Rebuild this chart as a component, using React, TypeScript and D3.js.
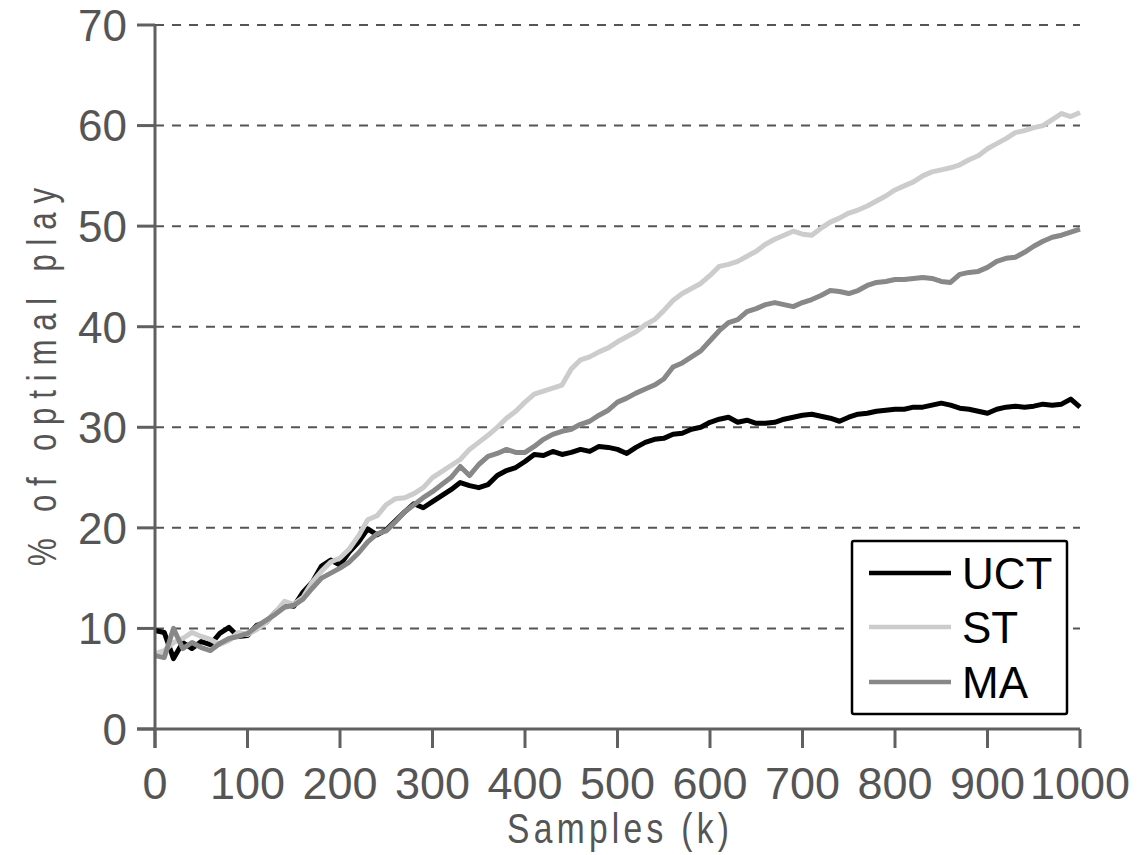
import React from "react";
import * as d3 from "d3";

const samples: number[] = d3.range(0, 1001, 10);

const uct: number[] = [
  9.8, 9.6, 7.0, 8.6, 8.0, 8.7, 8.4, 9.5, 10.1, 9.2,
  9.3, 10.3, 10.6, 11.6, 12.4, 12.2, 13.6, 14.6, 16.2, 16.8,
  16.3, 17.6, 18.6, 19.9, 19.3, 19.8, 20.7, 21.6, 22.4, 22.0,
  22.6, 23.2, 23.8, 24.5, 24.2, 24.0, 24.3, 25.2, 25.7, 26.0,
  26.6, 27.3, 27.2, 27.6, 27.3, 27.5, 27.8, 27.6, 28.1, 28.0,
  27.8, 27.4, 28.0, 28.5, 28.8, 28.9, 29.3, 29.4, 29.8, 30.0,
  30.5, 30.8, 31.0, 30.5, 30.7, 30.4, 30.4, 30.5, 30.8, 31.0,
  31.2, 31.3, 31.1, 30.9, 30.6, 31.0, 31.3, 31.4, 31.6, 31.7,
  31.8, 31.8, 32.0, 32.0, 32.2, 32.4, 32.2, 31.9, 31.8, 31.6,
  31.4, 31.8, 32.0, 32.1, 32.0, 32.1, 32.3, 32.2, 32.3, 32.8,
  32.0,
];

const st: number[] = [
  7.5, 7.8, 8.6, 9.0, 9.6, 9.2, 8.9, 8.4, 8.8, 9.6,
  9.4, 9.9, 10.6, 11.6, 12.7, 12.4, 13.1, 14.6, 15.7, 16.6,
  17.0, 17.9, 19.2, 20.8, 21.2, 22.3, 22.9, 23.0, 23.4, 24.0,
  25.0, 25.6, 26.2, 26.8, 27.8, 28.5, 29.2, 30.0, 30.9, 31.6,
  32.5, 33.3, 33.6, 33.9, 34.2, 35.8, 36.7, 37.0, 37.5, 37.9,
  38.5, 39.0, 39.5, 40.2, 40.7, 41.6, 42.6, 43.3, 43.8, 44.3,
  45.1, 46.0, 46.2, 46.5, 47.0, 47.5, 48.2, 48.7, 49.1, 49.5,
  49.2, 49.1, 49.8, 50.4, 50.8, 51.3, 51.6, 52.0, 52.5, 53.0,
  53.6, 54.0, 54.4, 55.0, 55.4, 55.6, 55.8, 56.1, 56.6, 57.0,
  57.7, 58.2, 58.7, 59.3, 59.5, 59.8, 60.0, 60.6, 61.2, 60.9,
  61.3,
];

const ma: number[] = [
  7.3, 7.1, 10.0, 8.0, 8.6, 8.1, 7.8, 8.5, 9.0, 9.2,
  9.5, 10.2, 10.8, 11.4, 12.1, 12.3, 12.9, 14.0, 15.0, 15.5,
  16.0, 16.6, 17.5, 18.6, 19.4, 19.7, 20.6, 21.6, 22.3, 23.0,
  23.6, 24.3, 25.0, 26.1, 25.2, 26.3, 27.1, 27.4, 27.8, 27.5,
  27.5, 28.1, 28.8, 29.3, 29.6, 29.8, 30.3, 30.6, 31.2, 31.7,
  32.5, 32.9, 33.4, 33.8, 34.2, 34.8, 36.0, 36.4, 37.0, 37.6,
  38.6, 39.6, 40.4, 40.7, 41.5, 41.8, 42.2, 42.4, 42.2, 42.0,
  42.4, 42.7, 43.1, 43.6, 43.5, 43.3, 43.6, 44.1, 44.4, 44.5,
  44.7, 44.7, 44.8, 44.9, 44.8, 44.5, 44.4, 45.2, 45.4, 45.5,
  45.9, 46.5, 46.8, 46.9, 47.4, 48.0, 48.5, 48.9, 49.1, 49.4,
  49.7,
];

const seriesNames: string[] = ["UCT", "ST", "MA"];
const seriesColors: string[] = ["#000000", "#cccccc", "#888888"];
const seriesValues: number[][] = [uct, st, ma];

const xTicks: number[] = [0, 100, 200, 300, 400, 500, 600, 700, 800, 900, 1000];
const yTicks: number[] = [0, 10, 20, 30, 40, 50, 60, 70];
const xTitle = "Samples (k)";
const yTitle = "% of optimal play";

export default function App() {
  const W = 1147;
  const H = 855;
  const x = d3.scaleLinear().domain([0, 1000]).range([155, 1080]);
  const y = d3.scaleLinear().domain([0, 70]).range([729, 25]);
  const axisColor = "#606060";
  const textColor = "#555555";
  const font = "'Liberation Sans', Arial, Helvetica, sans-serif";

  const line = (vals: number[]) =>
    d3
      .line<number>()
      .x((_, i) => x(samples[i]))
      .y((v) => y(v))(vals) || "";

  const legendX = 852;
  const legendY = 541;
  const legendRows = [573, 627, 682];
  const squeeze = 0.78;

  return (
    <svg
      width={W}
      height={H}
      style={{ position: "absolute", left: 0, top: 0, background: "#fff" }}
    >
      <rect x={0} y={0} width={W} height={H} fill="#fff" />
      {/* gridlines */}
      {yTicks
        .filter((t) => t > 0)
        .map((t) => (
          <line
            key={"g" + t}
            x1={x(0)}
            x2={x(1000)}
            y1={y(t)}
            y2={y(t)}
            stroke="#555"
            strokeWidth={2}
            strokeDasharray="9,8"
          />
        ))}
      {/* series */}
      {seriesValues.map((vals, i) => (
        <path
          key={seriesNames[i]}
          d={line(vals)}
          fill="none"
          stroke={seriesColors[i]}
          strokeWidth={5}
          strokeLinejoin="round"
        />
      ))}
      {/* axes */}
      <line x1={x(0)} x2={x(0)} y1={y(70)} y2={y(0) + 19} stroke={axisColor} strokeWidth={3} />
      <line x1={x(0) - 18} x2={x(1000)} y1={y(0)} y2={y(0)} stroke={axisColor} strokeWidth={3} />
      {yTicks.map((t) => (
        <g key={"yt" + t}>
          <line x1={x(0) - 18} x2={x(0)} y1={y(t)} y2={y(t)} stroke={axisColor} strokeWidth={3} />
          <text
            x={127}
            y={y(t)}
            dy="0.36em"
            textAnchor="end"
            fontFamily={font}
            fontSize={44}
            fill={textColor}
          >
            {t}
          </text>
        </g>
      ))}
      {xTicks.map((t) => (
        <g key={"xt" + t}>
          <line x1={x(t)} x2={x(t)} y1={y(0)} y2={y(0) + 19} stroke={axisColor} strokeWidth={3} />
          <text
            x={x(t)}
            y={799}
            textAnchor="middle"
            fontFamily={font}
            fontSize={45}
            fill={textColor}
          >
            {t}
          </text>
        </g>
      ))}
      {/* axis titles */}
      <text
        transform={`translate(618,843) scale(${squeeze},1)`}
        textAnchor="middle"
        fontFamily={font}
        fontSize={43}
        fill={textColor}
        textLength={222 / squeeze}
        lengthAdjust="spacing"
      >
        {xTitle}
      </text>
      <text
        transform={`translate(56,377) rotate(-90) scale(${squeeze},1)`}
        textAnchor="middle"
        fontFamily={font}
        fontSize={40}
        fill={textColor}
        textLength={378 / squeeze}
        lengthAdjust="spacing"
      >
        {yTitle}
      </text>
      {/* legend */}
      <rect
        x={legendX}
        y={legendY}
        width={215}
        height={173}
        rx={2}
        fill="#fff"
        stroke="#000"
        strokeWidth={2.5}
      />
      {seriesNames.map((n, i) => (
        <g key={"lg" + n}>
          <line
            x1={869}
            x2={951}
            y1={legendRows[i]}
            y2={legendRows[i]}
            stroke={seriesColors[i]}
            strokeWidth={4.5}
          />
          <text
            x={962}
            y={legendRows[i]}
            dy="0.36em"
            fontFamily={font}
            fontSize={44}
            fill="#000"
          >
            {n}
          </text>
        </g>
      ))}
    </svg>
  );
}
